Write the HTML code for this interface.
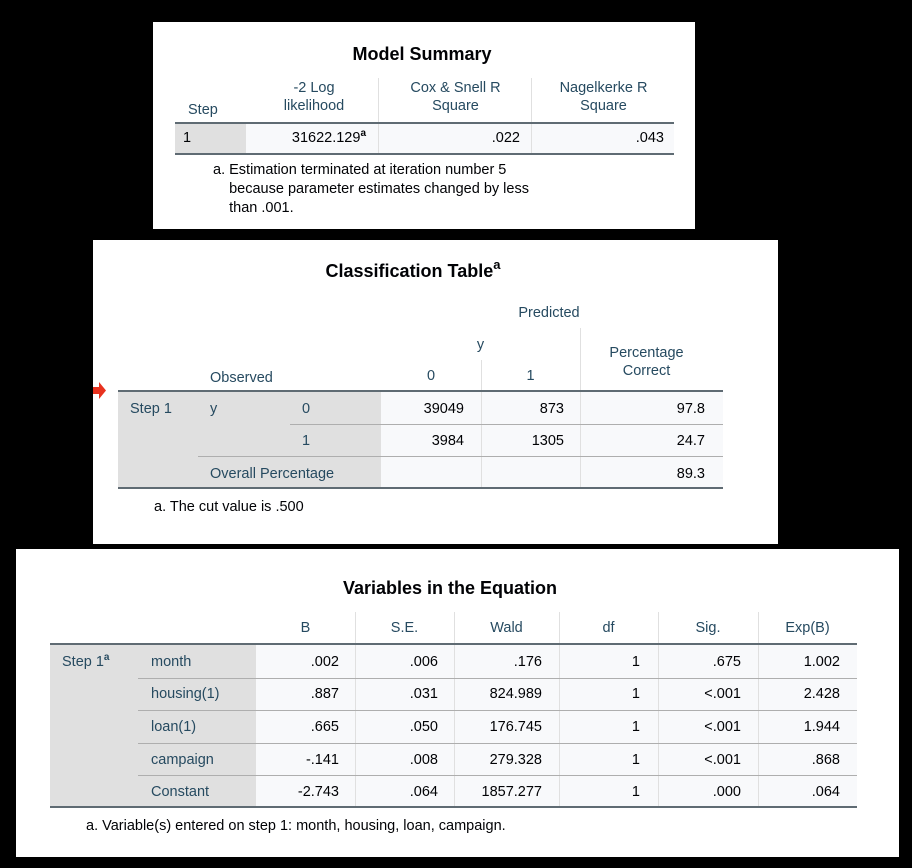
<!DOCTYPE html>
<html><head><meta charset="utf-8"><style>
*{margin:0;padding:0;box-sizing:border-box}
body{width:912px;height:868px;background:#000;position:relative;overflow:hidden;font-family:"Liberation Sans",Arial,sans-serif}
.p{position:absolute;background:#fff}
.a{position:absolute;white-space:nowrap;line-height:18px;font-size:14.5px}
.h{color:#264a60}
.d{color:#010205}
.r{text-align:right}
.c{text-align:center}
.g{position:absolute;background:#e0e0e0}
.w{position:absolute;background:#f8f9fb}
.ln{position:absolute;background:#aeaeae;height:1px}
.vl{position:absolute;background:#e0e0e0;width:1px}
.tk{position:absolute;background:#5f6b73;height:2px}
.ti{position:absolute;font-weight:bold;font-size:18px;color:#010205;white-space:nowrap;text-align:center}
sup{font-size:10px;font-weight:bold;line-height:0;vertical-align:0;position:relative;top:-6px}
.ti sup{font-size:13px;top:-8px}
</style></head><body>

<!-- Panel 1 -->
<div class="p" style="left:153px;top:22px;width:542px;height:207px"></div>
<div class="ti" style="left:153px;top:44px;width:538px">Model Summary</div>
<div class="vl" style="left:378px;top:78px;height:76px"></div>
<div class="vl" style="left:531px;top:78px;height:76px"></div>
<div class="g" style="left:175px;top:123px;width:71px;height:31px"></div>
<div class="w" style="left:246px;top:123px;width:428px;height:31px"></div>
<div class="vl" style="left:378px;top:123px;height:31px"></div>
<div class="vl" style="left:531px;top:123px;height:31px"></div>
<div class="tk" style="left:175px;top:122px;width:499px"></div>
<div class="tk" style="left:175px;top:153px;width:499px"></div>
<div class="a h" style="left:188px;top:101px">Step</div>
<div class="a h c" style="left:250px;top:79px;width:128px">-2 Log<br>likelihood</div>
<div class="a h c" style="left:380px;top:79px;width:151px">Cox &amp; Snell R<br>Square</div>
<div class="a h c" style="left:533px;top:79px;width:141px">Nagelkerke R<br>Square</div>
<div class="a d" style="left:183px;top:129px">1</div>
<div class="a d r" style="left:250px;top:129px;width:116px">31622.129<sup>a</sup></div>
<div class="a d r" style="left:380px;top:129px;width:140px">.022</div>
<div class="a d r" style="left:533px;top:129px;width:131px">.043</div>
<div class="a d" style="left:213px;top:161px;line-height:19px">a. Estimation terminated at iteration number 5<br>&nbsp;&nbsp;&nbsp;&nbsp;because parameter estimates changed by less<br>&nbsp;&nbsp;&nbsp;&nbsp;than .001.</div>

<!-- Panel 2 -->
<div class="p" style="left:93px;top:240px;width:685px;height:304px"></div>
<div class="ti" style="left:93px;top:261px;width:640px">Classification Table<sup>a</sup></div>
<div class="a h c" style="left:481px;top:304px;width:136px">Predicted</div>
<div class="a h c" style="left:381px;top:336px;width:199px">y</div>
<div class="a h c" style="left:381px;top:367px;width:100px">0</div>
<div class="a h c" style="left:481px;top:367px;width:99px">1</div>
<div class="a h c" style="left:580px;top:344px;width:133px">Percentage<br>Correct</div>
<div class="a h" style="left:210px;top:369px">Observed</div>
<div class="vl" style="left:580px;top:328px;height:160px"></div>
<div class="vl" style="left:481px;top:360px;height:128px"></div>
<div class="g" style="left:118px;top:392px;width:263px;height:96px"></div>
<div class="w" style="left:381px;top:392px;width:342px;height:96px"></div>
<div class="vl" style="left:481px;top:392px;height:96px"></div>
<div class="vl" style="left:580px;top:392px;height:96px"></div>
<div class="ln" style="left:290px;top:424px;width:433px"></div>
<div class="ln" style="left:198px;top:456px;width:525px"></div>
<div class="tk" style="left:118px;top:390px;width:605px"></div>
<div class="tk" style="left:118px;top:487px;width:605px"></div>
<div class="a h" style="left:130px;top:400px">Step 1</div>
<div class="a h" style="left:210px;top:400px">y</div>
<div class="a h" style="left:302px;top:400px">0</div>
<div class="a h" style="left:302px;top:432px">1</div>
<div class="a h" style="left:210px;top:465px">Overall Percentage</div>
<div class="a d r" style="left:381px;top:400px;width:83px">39049</div>
<div class="a d r" style="left:481px;top:400px;width:83px">873</div>
<div class="a d r" style="left:580px;top:400px;width:125px">97.8</div>
<div class="a d r" style="left:381px;top:432px;width:83px">3984</div>
<div class="a d r" style="left:481px;top:432px;width:83px">1305</div>
<div class="a d r" style="left:580px;top:432px;width:125px">24.7</div>
<div class="a d r" style="left:580px;top:465px;width:125px">89.3</div>
<div class="a d" style="left:154px;top:498px">a. The cut value is .500</div>
<svg style="position:absolute;left:93px;top:382px" width="14" height="17"><polygon points="0,5 6,5 6,0 13,8.5 6,17 6,12 0,12" fill="#e8321f"/></svg>

<!-- Panel 3 -->
<div class="p" style="left:16px;top:549px;width:883px;height:308px"></div>
<div class="ti" style="left:16px;top:578px;width:868px">Variables in the Equation</div>
<div class="a h c" style="left:256px;top:619px;width:99px">B</div>
<div class="a h c" style="left:355px;top:619px;width:99px">S.E.</div>
<div class="a h c" style="left:454px;top:619px;width:105px">Wald</div>
<div class="a h c" style="left:559px;top:619px;width:99px">df</div>
<div class="a h c" style="left:658px;top:619px;width:100px">Sig.</div>
<div class="a h c" style="left:758px;top:619px;width:99px">Exp(B)</div>
<div class="g" style="left:50px;top:645px;width:206px;height:163px"></div>
<div class="w" style="left:256px;top:645px;width:601px;height:163px"></div>
<div class="vl" style="left:355px;top:612px;height:196px"></div>
<div class="vl" style="left:454px;top:612px;height:196px"></div>
<div class="vl" style="left:559px;top:612px;height:196px"></div>
<div class="vl" style="left:658px;top:612px;height:196px"></div>
<div class="vl" style="left:758px;top:612px;height:196px"></div>
<div class="ln" style="left:138px;top:678px;width:719px"></div>
<div class="ln" style="left:138px;top:710px;width:719px"></div>
<div class="ln" style="left:138px;top:743px;width:719px"></div>
<div class="ln" style="left:138px;top:775px;width:719px"></div>
<div class="tk" style="left:50px;top:643px;width:807px"></div>
<div class="tk" style="left:50px;top:806px;width:807px"></div>
<div class="a h" style="left:62px;top:653px">Step 1<sup>a</sup></div>
<div class="a h" style="left:151px;top:653px">month</div>
<div class="a h" style="left:151px;top:685px">housing(1)</div>
<div class="a h" style="left:151px;top:718px">loan(1)</div>
<div class="a h" style="left:151px;top:751px">campaign</div>
<div class="a h" style="left:151px;top:783px">Constant</div>

<div class="a d r" style="left:256px;top:653px;width:83px">.002</div>
<div class="a d r" style="left:355px;top:653px;width:83px">.006</div>
<div class="a d r" style="left:454px;top:653px;width:88px">.176</div>
<div class="a d r" style="left:559px;top:653px;width:81px">1</div>
<div class="a d r" style="left:658px;top:653px;width:83px">.675</div>
<div class="a d r" style="left:758px;top:653px;width:82px">1.002</div>

<div class="a d r" style="left:256px;top:685px;width:83px">.887</div>
<div class="a d r" style="left:355px;top:685px;width:83px">.031</div>
<div class="a d r" style="left:454px;top:685px;width:88px">824.989</div>
<div class="a d r" style="left:559px;top:685px;width:81px">1</div>
<div class="a d r" style="left:658px;top:685px;width:83px">&lt;.001</div>
<div class="a d r" style="left:758px;top:685px;width:82px">2.428</div>

<div class="a d r" style="left:256px;top:718px;width:83px">.665</div>
<div class="a d r" style="left:355px;top:718px;width:83px">.050</div>
<div class="a d r" style="left:454px;top:718px;width:88px">176.745</div>
<div class="a d r" style="left:559px;top:718px;width:81px">1</div>
<div class="a d r" style="left:658px;top:718px;width:83px">&lt;.001</div>
<div class="a d r" style="left:758px;top:718px;width:82px">1.944</div>

<div class="a d r" style="left:256px;top:751px;width:83px">-.141</div>
<div class="a d r" style="left:355px;top:751px;width:83px">.008</div>
<div class="a d r" style="left:454px;top:751px;width:88px">279.328</div>
<div class="a d r" style="left:559px;top:751px;width:81px">1</div>
<div class="a d r" style="left:658px;top:751px;width:83px">&lt;.001</div>
<div class="a d r" style="left:758px;top:751px;width:82px">.868</div>

<div class="a d r" style="left:256px;top:783px;width:83px">-2.743</div>
<div class="a d r" style="left:355px;top:783px;width:83px">.064</div>
<div class="a d r" style="left:454px;top:783px;width:88px">1857.277</div>
<div class="a d r" style="left:559px;top:783px;width:81px">1</div>
<div class="a d r" style="left:658px;top:783px;width:83px">.000</div>
<div class="a d r" style="left:758px;top:783px;width:82px">.064</div>

<div class="a d" style="left:86px;top:817px">a. Variable(s) entered on step 1: month, housing, loan, campaign.</div>
</body></html>
